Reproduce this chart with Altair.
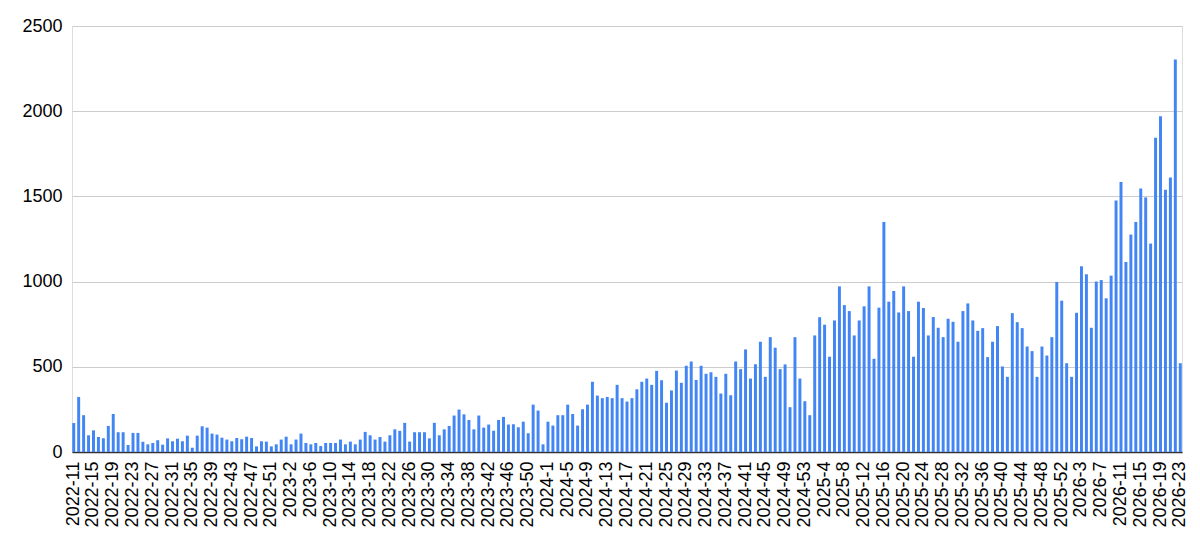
import altair as alt
import pandas as pd

# Week categories: 2022-11 .. 2026-23 (weeks numbered 1..53 per year)
year_ranges = [(2022, 11, 53), (2023, 1, 53), (2024, 1, 53), (2025, 1, 53), (2026, 1, 23)]
weeks = [f"{y}-{w}" for (y, a, b) in year_ranges for w in range(a, b + 1)]

values_2022 = [170, 323, 216, 98, 127, 88, 80, 153, 223, 116, 116, 41, 112, 112, 60, 45,
               53, 69, 43, 80, 63, 78, 63, 96, 25, 96, 151, 143, 108, 102, 84, 73,
               63, 82, 75, 90, 82, 33, 63, 61, 33, 45, 73]
values_2023 = [90, 45, 73, 108, 53, 45, 53, 35, 53, 53, 53, 73, 45, 61, 45, 73,
               118, 98, 73, 88, 61, 98, 133, 124, 171, 61, 116, 116, 116, 80, 171, 98,
               133, 153, 214, 249, 221, 188, 133, 214, 143, 161, 125, 188, 206, 161, 163, 145,
               178, 110, 278, 243, 45]
values_2024 = [178, 155, 216, 216, 278, 223, 155, 251, 278, 412, 331, 316, 323, 316, 394, 316,
               296, 316, 368, 412, 431, 394, 476, 421, 289, 361, 478, 406, 506, 531, 423, 506,
               459, 468, 441, 343, 459, 333, 531, 486, 602, 431, 515, 647, 441, 674, 612, 486,
               514, 263, 674, 431, 298]
values_2025 = [216, 684, 791, 747, 559, 772, 972, 862, 827, 684, 772, 855, 972, 547, 847, 1350,
               882, 945, 819, 972, 827, 559, 882, 845, 684, 792, 729, 674, 782, 764, 647, 827,
               872, 772, 711, 727, 557, 647, 739, 502, 441, 815, 762, 727, 619, 592, 441, 619,
               566, 674, 998, 888, 521]
values_2026 = [441, 817, 1090, 1043, 729, 1000, 1009, 902, 1035, 1476, 1584, 1115, 1276, 1350, 1546, 1494,
               1223, 1844, 1970, 1539, 1611, 2303, 521]

counts = values_2022 + values_2023 + values_2024 + values_2025 + values_2026
tick_labels = weeks[::4]
y_ticks = [0, 500, 1000, 1500, 2000, 2500]

df = pd.DataFrame({"week": weeks, "count": counts})

FONT = "Liberation Sans"

chart = alt.Chart(df).mark_bar(color="#4285F4").encode(
    x=alt.X(
        "week:N",
        sort=weeks,
        title=None,
        scale=alt.Scale(paddingInner=0.4, paddingOuter=0.05),
        axis=alt.Axis(
            values=tick_labels,
            labelAngle=-90,
            labelFontSize=18,
            labelColor="#000000",
            labelFont=FONT,
            labelPadding=9,
            ticks=False,
            domainColor="#333333",
            domainWidth=1.5,
            grid=False,
            labelOverlap=False,
        ),
    ),
    y=alt.Y(
        "count:Q",
        title=None,
        scale=alt.Scale(domain=[0, 2500], nice=False),
        axis=alt.Axis(
            values=y_ticks,
            format="d",
            labelFontSize=18,
            labelColor="#000000",
            labelFont=FONT,
            labelPadding=10,
            ticks=False,
            domain=False,
            grid=True,
            gridColor="#cccccc",
            gridWidth=1,
        ),
    ),
).properties(
    width=1110,
    height=426,
    autosize="none",
    padding={"left": 64, "top": 18, "right": 10, "bottom": 88},
).configure_view(stroke=None).configure(background="white")

chart.save("out.html", embed_options={"renderer": "svg", "actions": False})
